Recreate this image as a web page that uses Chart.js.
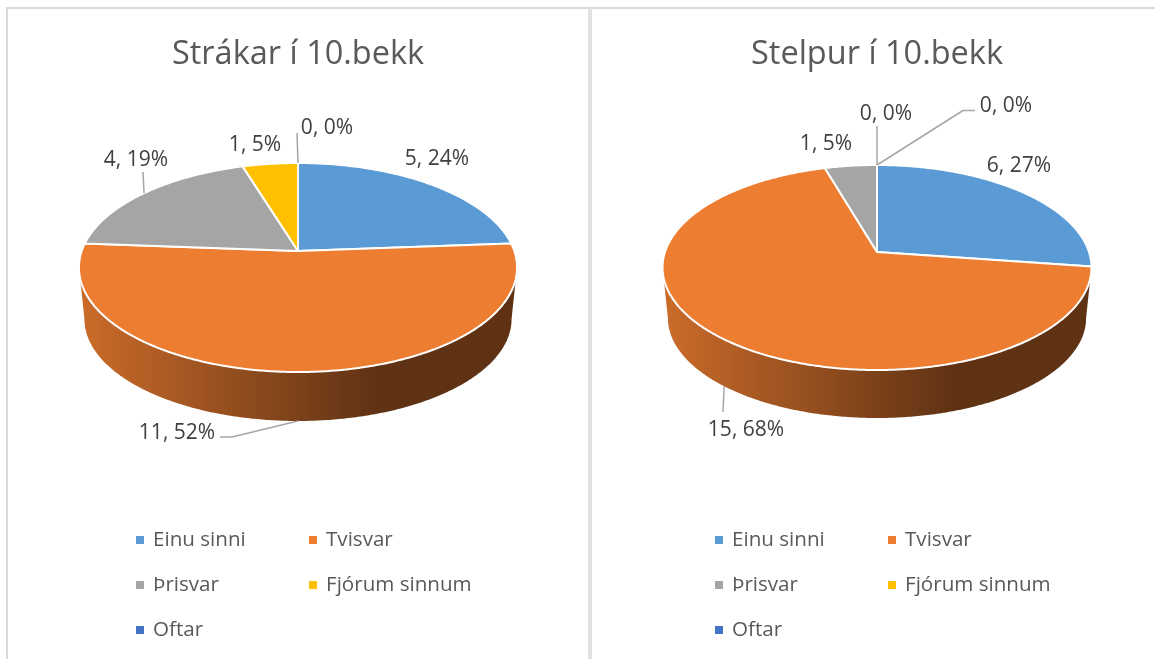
<!DOCTYPE html>
<html lang="is">
<head>
<meta charset="utf-8">
<script src="https://cdn.jsdelivr.net/npm/chart.js@4/dist/chart.umd.min.js"></script>
<style>
html,body{margin:0;padding:0;background:#fff;width:1155px;height:659px;overflow:hidden}
.wrap{position:relative;width:1155px;height:659px;overflow:hidden}
canvas{position:absolute;top:0}
.rule{position:absolute}
</style>
</head>
<body>
<div class="wrap">
  <div class="rule" style="left:7px;top:7px;width:1148px;height:2px;background:#d9d9d9"></div>
  <div class="rule" style="left:6px;top:7px;width:2px;height:652px;background:#d9d9d9"></div>
  <div class="rule" style="left:588px;top:8px;width:4px;height:651px;background:#e1e1e1"></div>
  <canvas id="boys" style="left:0" width="596" height="659"></canvas>
  <canvas id="girls" style="left:600px" width="554" height="659"></canvas>
</div>
<script>
// ---- data ----
const categories = ['Einu sinni', 'Tvisvar', 'Þrisvar', 'Fjórum sinnum', 'Oftar'];
const boysValues = [5, 11, 4, 1, 0];
const girlsValues = [6, 15, 1, 0, 0];
const boysTitle = 'Strákar í 10.bekk';
const girlsTitle = 'Stelpur í 10.bekk';
const sliceColors = ['#5B9BD5', '#ED7D31', '#A5A5A5', '#FFC000', '#4472C4'];

// ---- layout (relative to each pie's centre) ----
const FONT = '"Open Sans", "Noto Sans", sans-serif';
const boysLayout = {
  radius: 216.3, rimBack: 88, rimFront: 121, depth: 49, paddingBottom: 235.4,
  labels: [[139,-92],[-121,182],[-162,-91],[-43,-106],[29,-123]],
  leaders: [null,[[-66,186],[-78,186]],[[-155,-79]],null,[[-1,-118]]]
};
const girlsLayout = {
  radius: 212, rimBack: 87, rimFront: 118, depth: 48, paddingBottom: 233.4,
  labels: [[142,-86],[-131,178],[-51,-108],[9,-138],[129,-146]],
  leaders: [null,[[-154,160]],null,[[0,-126]],[[86,-141.5],[98,-141.5]]]
};
const legendCols = [-162, 11];
const legendRows = [540, 585, 630];

function shade(hex, f) {
  const n = parseInt(hex.slice(1), 16);
  return `rgb(${Math.round((n>>16&255)*f)},${Math.round((n>>8&255)*f)},${Math.round((n&255)*f)})`;
}

const tiltedPie = {
  id: 'tiltedPie',
  beforeDatasetsDraw(chart, args, o) {
    const ctx = chart.ctx, arcs = chart.getDatasetMeta(0).data;
    const colors = chart.data.datasets[0].backgroundColor;
    const k = 0.975, p = (o.rimFront - o.rimBack) / (o.rimFront + o.rimBack), b = o.rimBack * (1 + p);
    const top = (el, t) => { const X = Math.cos(t), Y = Math.sin(t), w = 1 - p * Y;
      return [el.x + el.outerRadius * X / w, el.y + b * Y / w]; };
    const low = (el, t) => { const X = Math.cos(t), Y = Math.sin(t), w = 1 - p * Y;
      const y0 = el.y + o.rimFront + o.depth - k * o.rimFront;
      return [el.x + k * el.outerRadius * X / w, y0 + k * b * Y / w]; };
    const curve = (el, fn, a0, a1, first) => {
      const n = Math.max(2, Math.ceil(Math.abs(a1 - a0) / 0.01));
      for (let i = 0; i <= n; i++) {
        const q = fn(el, a0 + (a1 - a0) * i / n);
        (i === 0 && first) ? ctx.moveTo(q[0], q[1]) : ctx.lineTo(q[0], q[1]);
      }
    };
    ctx.save();
    ctx.lineJoin = 'round';
    // side wall: only the part between the two horizontal extremes of the rim is visible
    const tR = Math.asin(p), tL = Math.PI - tR;
    arcs.forEach((el, i) => {
      const a0 = Math.max(el.startAngle, tR), a1 = Math.min(el.endAngle, tL);
      if (a1 - a0 < 1e-6) return;
      const span = el.outerRadius * 1.02;
      const g = ctx.createLinearGradient(el.x - span, 0, el.x + span, 0);
      g.addColorStop(0, shade(colors[i], 0.86));
      g.addColorStop(0.68, shade(colors[i], 0.4));
      g.addColorStop(1, shade(colors[i], 0.4));
      ctx.beginPath();
      curve(el, top, a0, a1, true);
      curve(el, low, a1, a0, false);
      ctx.closePath();
      ctx.fillStyle = g;
      ctx.fill();
    });
    // top faces
    arcs.forEach((el, i) => {
      if (el.endAngle - el.startAngle < 1e-6) return;
      ctx.beginPath();
      ctx.moveTo(el.x, el.y);
      curve(el, top, el.startAngle, el.endAngle, false);
      ctx.closePath();
      ctx.fillStyle = colors[i];
      ctx.fill();
      ctx.strokeStyle = '#fff';
      ctx.lineWidth = 2;
      ctx.stroke();
    });
    // leader lines
    arcs.forEach((el, i) => {
      const way = o.leaders[i];
      if (!way) return;
      const mid = (el.startAngle + el.endAngle) / 2;
      const s = (Math.sin(mid) > 0 ? low : top)(el, mid);
      ctx.beginPath();
      ctx.moveTo(s[0], s[1]);
      way.forEach(q => ctx.lineTo(el.x + q[0], el.y + q[1]));
      ctx.strokeStyle = '#a6a6a6';
      ctx.lineWidth = 1.5;
      ctx.stroke();
    });
    // data labels
    const vals = chart.data.datasets[0].data, sum = vals.reduce((u, v) => u + v, 0);
    ctx.font = `${o.labelSize}px ${FONT}`;
    ctx.fillStyle = '#404040';
    ctx.textAlign = 'center';
    ctx.textBaseline = 'middle';
    arcs.forEach((el, i) => {
      const q = o.labels[i];
      ctx.fillText(`${vals[i]}, ${Math.round(vals[i] / sum * 100)}%`, el.x + q[0], el.y + q[1]);
    });
    // legend
    ctx.font = `${o.legendSize}px ${FONT}`;
    ctx.textAlign = 'left';
    const cx = arcs[0].x;
    chart.data.labels.forEach((name, i) => {
      const x = cx + legendCols[i % 2], y = legendRows[Math.floor(i / 2)];
      ctx.fillStyle = colors[i];
      ctx.fillRect(x, y - 4, 8, 8);
      ctx.fillStyle = '#595959';
      ctx.fillText(name, x + 17, y);
    });
    ctx.restore();
    return false; // the pie is fully painted above, in perspective
  }
};

function makeChart(id, title, values, lay) {
  return new Chart(document.getElementById(id), {
    type: 'pie',
    data: { labels: categories, datasets: [{ data: values, backgroundColor: sliceColors, borderColor: '#fff', borderWidth: 1.5 }] },
    plugins: [tiltedPie],
    options: {
      responsive: false,
      animation: false,
      radius: lay.radius,
      layout: { padding: { bottom: lay.paddingBottom } },
      plugins: {
        legend: { display: false },
        tooltip: { enabled: false },
        title: {
          display: true, text: title, color: '#595959',
          font: { family: FONT, size: 32.5, weight: '400', lineHeight: 1.2 },
          padding: { top: 35, bottom: 4.4 }
        },
        tiltedPie: Object.assign({ labelSize: 21, legendSize: 20.6 }, lay)
      }
    }
  });
}
makeChart('boys', boysTitle, boysValues, boysLayout);
makeChart('girls', girlsTitle, girlsValues, girlsLayout);
</script>
</body>
</html>
